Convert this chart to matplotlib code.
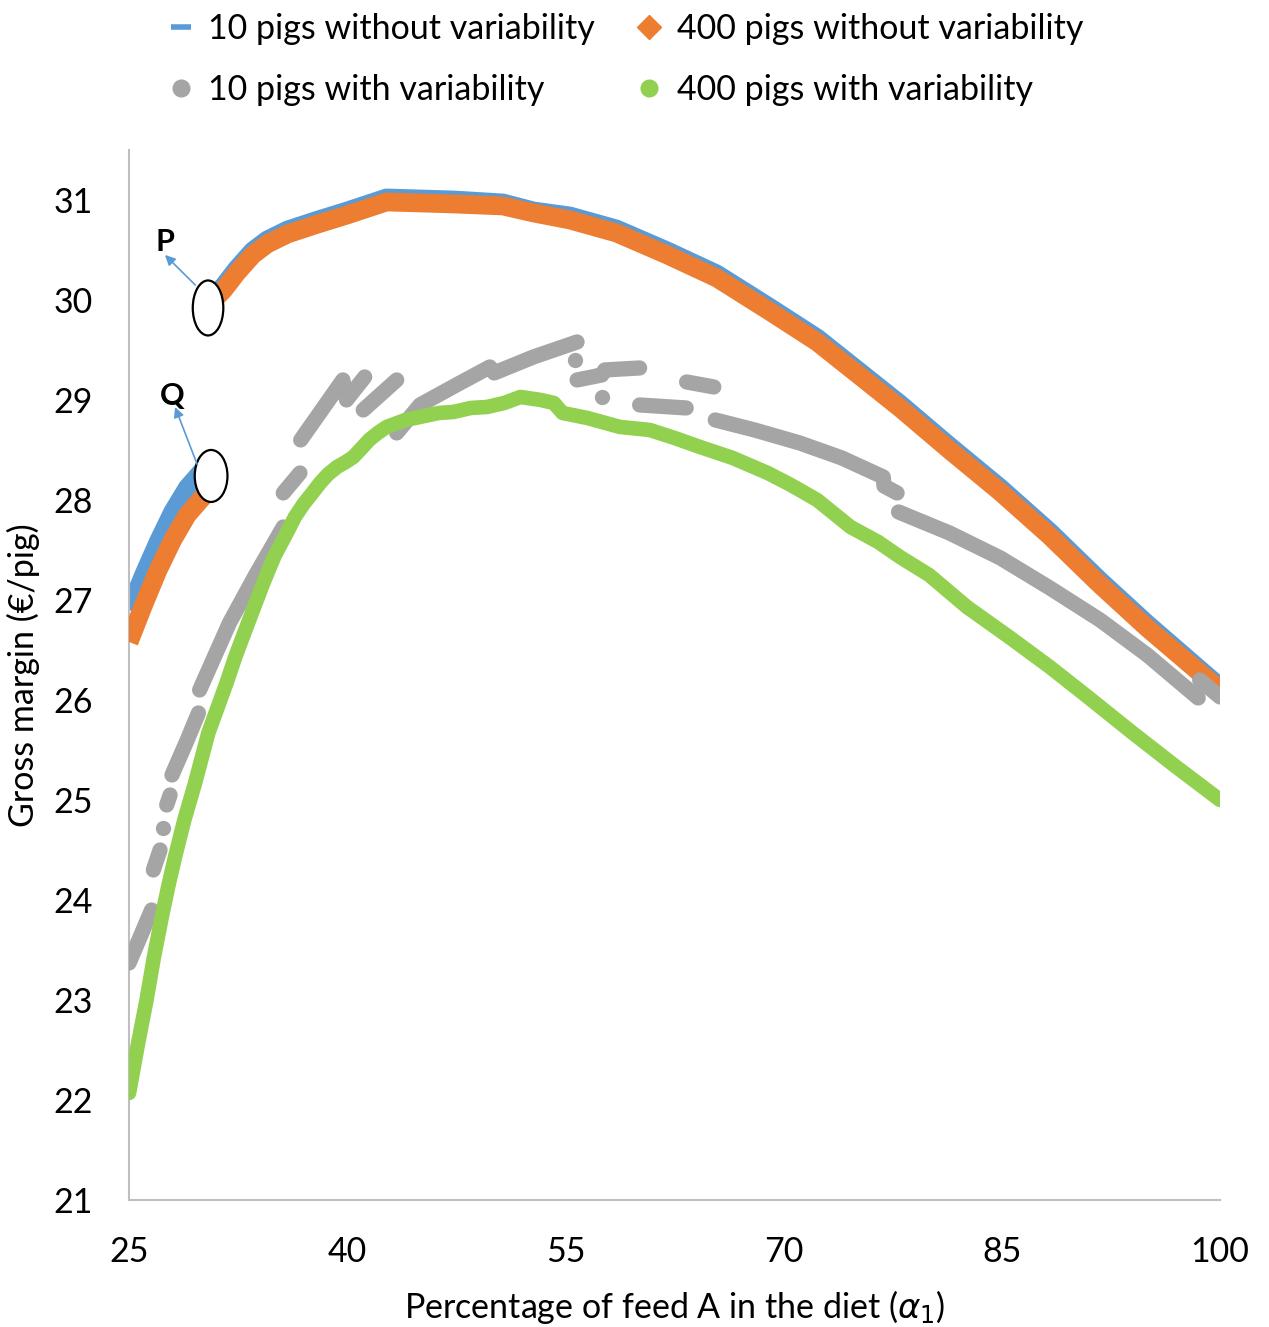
import matplotlib

matplotlib.use("Agg")
import matplotlib.pyplot as plt
from matplotlib.lines import Line2D
from matplotlib.patches import Ellipse

plt.rcParams["font.family"] = ["Lato", "DejaVu Sans"]
plt.rcParams["mathtext.fontset"] = "dejavusans"

# ----- data -----
# 10 pigs without variability (two pieces, jump near 30.5)
blue_lo_x = [25, 26, 27, 28, 29, 30.2]
blue_lo_y = [26.9, 27.25, 27.58, 27.88, 28.12, 28.32]
blue_hi_x = [30.5, 31.5, 32.4, 33.5, 34.5, 35.9, 38, 40, 42.7, 45, 47.3, 50.7, 52.8, 55.3,
             58.5, 62, 65.4, 69, 72.3, 75.5, 78, 81.4, 84.9, 88.3, 91.7, 95, 100]
blue_hi_y = [29.99, 30.14, 30.31, 30.49, 30.6, 30.7, 30.8, 30.89, 31.02, 31.01, 31.0, 30.97,
             30.89, 30.84, 30.71, 30.49, 30.26, 29.93, 29.62, 29.25, 28.96, 28.54, 28.12,
             27.68, 27.2, 26.76, 26.13]

# 400 pigs without variability
orange_lo_x = [25, 26, 27, 28, 29, 30.2]
orange_lo_y = [26.58, 26.95, 27.3, 27.6, 27.85, 28.05]
orange_hi_x = [30.5, 31.5, 32.4, 33.5, 34.5, 35.9, 38, 40, 42.7, 45, 47.3, 50.7, 52.8, 55.3,
               58.5, 62, 65.4, 69, 72.3, 75.5, 78, 81.4, 84.9, 88.3, 91.7, 95, 100]
orange_hi_y = [29.95, 30.1, 30.27, 30.45, 30.56, 30.66, 30.76, 30.85, 30.98, 30.97, 30.96, 30.94,
               30.87, 30.8, 30.67, 30.45, 30.22, 29.89, 29.58, 29.21, 28.92, 28.5, 28.08,
               27.64, 27.16, 26.72, 26.1]

# 10 pigs with variability (broken into pieces)
gray_segments = [
    ([25.0, 26.55], [23.37, 23.9]),
    ([26.67, 27.13], [24.3, 24.5]),
    ([27.3], [24.72]),
    ([27.59, 27.82], [24.95, 25.05]),
    ([27.95, 29.0, 29.77], [25.25, 25.6, 25.87]),
    ([29.85, 31.9, 33.7, 35.6], [26.1, 26.77, 27.25, 27.73]),
    ([35.6, 36.75], [28.07, 28.27]),
    ([36.8, 39.7, 39.95, 41.2], [28.6, 29.2, 29.0, 29.23]),
    ([41.1, 43.4], [28.9, 29.2]),
    ([43.4, 45, 47.5, 49.8, 50.1, 52.8, 55.8], [28.67, 28.95, 29.15, 29.33, 29.27, 29.43, 29.58]),
    ([55.66], [29.4]),
    ([55.8, 57.5, 57.7, 60.1], [29.2, 29.25, 29.3, 29.32]),
    ([57.5], [29.03]),
    ([60.1, 63.3], [28.95, 28.92]),
    ([63.33, 65.2], [29.18, 29.13]),
    ([65.3, 68, 71.1, 74, 76.85, 76.9, 77.8], [28.8, 28.7, 28.57, 28.42, 28.23, 28.14, 28.07]),
    ([77.9, 81.4, 84.9, 88.3, 91.75, 95, 98.5], [27.88, 27.67, 27.42, 27.12, 26.8, 26.45, 26.02]),
    ([98.6, 100], [26.2, 26.03]),
]

# 400 pigs with variability
green_x = [25, 25.6, 26.2, 26.7, 27.25, 27.7, 28.16, 28.8, 29.54, 30.45, 31.1, 31.7, 32.3, 33,
           33.6, 34.23, 35, 35.84, 36.4, 37, 37.6, 38.13, 38.7, 39.3, 39.9, 40.42, 41, 41.5,
           42.1, 42.7, 44, 45, 46.3, 47.3, 48.5, 49.6, 50.8, 51.9, 53.3, 54.2, 54.8, 56.5,
           58.75, 60.8, 62.5, 64.25, 66.5, 68.9, 70.5, 72.3, 74.6, 76.5, 78, 80, 82.6, 85.5,
           88.3, 91, 94, 97, 100]
green_y = [22.07, 22.55, 23.0, 23.42, 23.83, 24.14, 24.43, 24.8, 25.17, 25.67, 25.93, 26.17,
           26.43, 26.7, 26.93, 27.17, 27.44, 27.67, 27.83, 27.96, 28.07, 28.17, 28.26, 28.33,
           28.38, 28.43, 28.52, 28.6, 28.67, 28.73, 28.8, 28.83, 28.87, 28.88, 28.92, 28.93,
           28.97, 29.03, 29.0, 28.97, 28.87, 28.82, 28.73, 28.7, 28.62, 28.53, 28.42, 28.27,
           28.15, 28.0, 27.73, 27.58, 27.43, 27.25, 26.93, 26.63, 26.33, 26.02, 25.67, 25.33,
           25.0]

labels = ["10 pigs without variability", "400 pigs without variability",
          "10 pigs with variability", "400 pigs with variability"]
x_ticks = [25, 40, 55, 70, 85, 100]
y_ticks = [21, 22, 23, 24, 25, 26, 27, 28, 29, 30, 31]

BLUE = "#5B9BD5"
ORANGE = "#ED7D31"
GRAY = "#A5A5A5"
GREEN = "#92D050"
FS = 24.5

fig = plt.figure(figsize=(12.69, 13.27), dpi=100)
ax = fig.add_axes([0.1017, 0.0957, 0.8597, 0.7913])

kw = dict(solid_capstyle="round", solid_joinstyle="round")
for xs, ys in [(blue_lo_x, blue_lo_y), (blue_hi_x, blue_hi_y)]:
    ax.plot(xs, ys, color=BLUE, lw=13.5, solid_capstyle="butt", solid_joinstyle="round", zorder=2)
for xs, ys in [(orange_lo_x, orange_lo_y), (orange_hi_x, orange_hi_y)]:
    ax.plot(xs, ys, color=ORANGE, lw=13.5, solid_capstyle="butt", solid_joinstyle="round", zorder=3)
for xs, ys in gray_segments:
    if len(xs) == 1:
        ax.plot(xs, ys, "o", color=GRAY, ms=11, mew=0, zorder=4)
    else:
        ax.plot(xs, ys, color=GRAY, lw=11, zorder=4, **kw)
ax.plot(green_x, green_y, color=GREEN, lw=10.5, zorder=5, **kw)

# annotations P and Q
ax.add_patch(Ellipse((30.43, 29.92), 2.1, 0.55, facecolor="white", edgecolor="black",
                     lw=1.6, zorder=6))
ax.add_patch(Ellipse((30.64, 28.24), 2.25, 0.52, facecolor="white", edgecolor="black",
                     lw=1.6, zorder=6))
arrow = dict(arrowstyle="-|>,head_length=0.6,head_width=0.3", color=BLUE, lw=1.2,
             shrinkA=0, shrinkB=0)
ax.annotate("", xy=(27.47, 30.45), xytext=(29.55, 30.15), arrowprops=arrow, zorder=7)
ax.annotate("", xy=(28.16, 28.93), xytext=(29.7, 28.35), arrowprops=arrow, zorder=7)
ax.text(27.47, 30.58, "P", fontsize=22, fontweight="bold", ha="center", va="center", zorder=7)
ax.text(27.96, 29.04, "Q", fontsize=22, fontweight="bold", ha="center", va="center", zorder=7)

ax.set_xlim(25, 100)
ax.set_ylim(21, 31.5)
ax.set_xticks(x_ticks)
ax.set_yticks(y_ticks)
ax.tick_params(length=0, labelsize=FS, colors="black")
ax.tick_params(axis="y", pad=26)
ax.tick_params(axis="x", pad=26)
for side in ["top", "right"]:
    ax.spines[side].set_visible(False)
for side in ["left", "bottom"]:
    ax.spines[side].set_color("#BFBFBF")
    ax.spines[side].set_linewidth(1.5)

ax.set_xlabel(r"Percentage of feed A in the diet ($\alpha_1$)", fontsize=FS, labelpad=14)
ax.set_ylabel("Gross margin (€/pig)", fontsize=FS, labelpad=10)

handles = [
    Line2D([], [], color=BLUE, lw=4, solid_capstyle="butt"),
    Line2D([], [], color=ORANGE, marker="D", ms=12, lw=0),
    Line2D([], [], color=GRAY, marker="o", ms=12, lw=0),
    Line2D([], [], color=GREEN, marker="o", ms=12, lw=0),
]
order = [0, 2, 1, 3]
fig.legend([handles[i] for i in order], [labels[i] for i in order], ncol=2,
           loc="upper center", bbox_to_anchor=(0.494, 1.013), frameon=False, fontsize=FS,
           handlelength=0.6, handletextpad=0.5, columnspacing=1.3, labelspacing=0.85)

plt.savefig("out.png", dpi=100)
plt.close()
